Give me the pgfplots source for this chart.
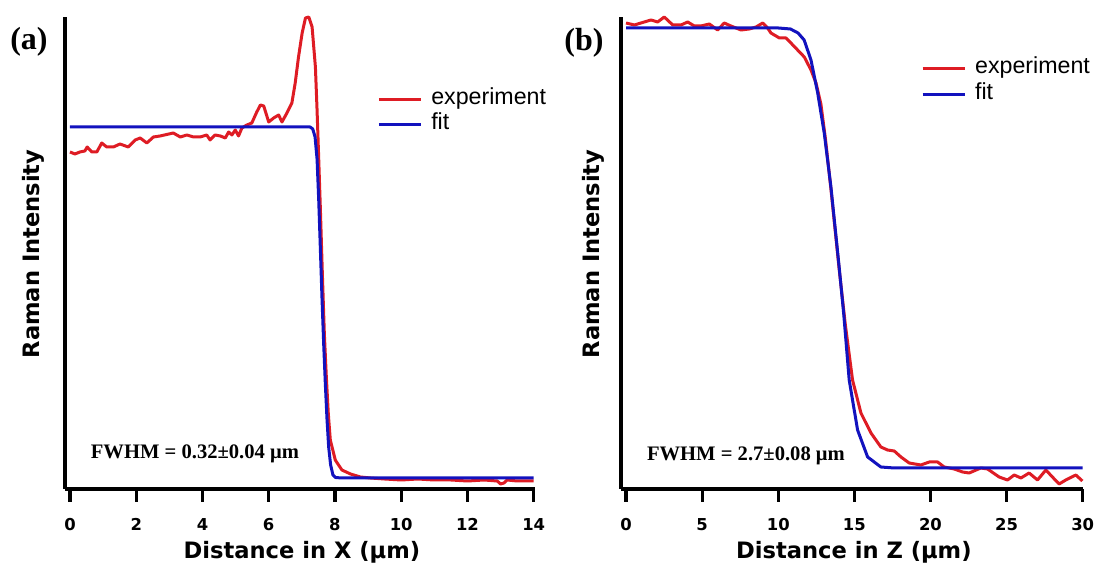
\documentclass[border=0pt]{standalone}
\usepackage{fontspec}
\setmainfont{Liberation Sans}
\newfontfamily\djv{DejaVu Sans}
\newfontfamily\tms{Liberation Serif}
\usepackage{pgfplots}
\pgfplotsset{compat=1.18}

\definecolor{expred}{RGB}{222,28,36}
\definecolor{fitblue}{RGB}{18,18,190}

\pgfplotsset{
  ramanpanel/.style={
    scale only axis, anchor=south west, clip=false,
    height=236pt, ymin=0, ymax=472,
    axis x line=bottom, axis y line=left,
    axis line style={-, line width=1.6pt, black},
    ytick=\empty,
    tick align=outside, major tick length=6.5pt,
    xtick style={line width=1.6pt, black},
    /pgf/number format/assume math mode=true,
    xticklabel style={font=\djv\bfseries\fontsize{8.2}{9}\selectfont, anchor=north, inner sep=0pt, yshift=-8pt},
    xlabel style={font=\djv\bfseries\fontsize{11.3}{13}\selectfont, anchor=base},
    ylabel style={font=\djv\bfseries\fontsize{11.3}{13}\selectfont, anchor=center},
    legend cell align=left,
    legend image code/.code={\draw[#1] (0pt,0pt) -- (21pt,0pt);},
    legend style={draw=none, fill=none, inner sep=0pt, row sep=1.8pt,
      font=\fontsize{11.6}{13}\selectfont,
      nodes={inner sep=0.5pt, text height=0.75em, text depth=0.25em},
      /tikz/every odd column/.append style={column sep=4pt}},
    every axis plot/.append style={line width=1.5pt, line join=round},
  },
}

\begin{document}
\begin{tikzpicture}
\path[use as bounding box] (0,0) rectangle (547.5pt,282.5pt);

% panel (a): lateral profile
\begin{axis}[ramanpanel,
  at={(32.5pt,38pt)}, width=235pt,
  xmin=-0.15, xmax=14.04,
  xtick={0,2,...,14},
  xlabel={Distance in X (μm)},
  ylabel={Raman Intensity},
  xlabel style={at={(axis description cs:0.504,-0.148)}},
  ylabel style={at={(axis description cs:-0.068,0.498)}},
  legend style={at={(axis description cs:0.6635,0.850)}, anchor=north west},
]
\addplot[expred] coordinates {
  (0,337) (0.15,335) (0.30,337) (0.45,338) (0.52,342) (0.66,337) (0.81,337)
  (0.96,346) (1.11,342) (1.31,342) (1.51,345) (1.76,342) (1.97,349) (2.12,351)
  (2.32,346) (2.52,352) (2.72,353) (3.12,356) (3.33,352) (3.53,354) (3.73,352)
  (3.93,352) (4.13,354) (4.23,349) (4.38,354) (4.54,353) (4.69,351) (4.79,357)
  (4.89,354) (4.99,359) (5.09,353) (5.19,361) (5.34,364) (5.49,366) (5.64,377)
  (5.75,384) (5.85,383) (6.00,367) (6.15,371) (6.30,374) (6.40,367) (6.55,376)
  (6.70,386) (6.80,406) (6.90,432) (7.01,456) (7.11,471) (7.21,472) (7.31,462)
  (7.41,422) (7.46,379) (7.51,330) (7.56,280) (7.62,215) (7.68,155) (7.74,112)
  (7.80,75) (7.86,49) (8.01,29) (8.21,19) (8.47,15) (8.77,12) (9.07,11)
  (9.5,10) (10,9) (10.5,10) (11,9) (11.5,9) (12,8) (12.5,9) (12.9,8)
  (13.0,5) (13.1,6) (13.2,9) (13.5,8) (14,8)
};
\addlegendentry{experiment}
\addplot[fitblue] coordinates {
  (0,362) (7.25,362) (7.33,360) (7.40,352) (7.46,330) (7.51,289) (7.56,240)
  (7.61,190) (7.66,145) (7.71,105) (7.76,70) (7.81,42) (7.87,24) (7.94,14)
  (8.02,11.5) (8.2,11) (14,11)
};
\addlegendentry{fit}
\node[anchor=base west, font=\tms\bfseries\fontsize{10.3}{12}\selectfont]
  at (axis description cs:0.040,0.0636) {FWHM = 0.32±0.04 μm};
\node[font=\tms\bfseries\fontsize{16}{18}\selectfont]
  at (axis description cs:-0.0766,0.947) {(a)};
\end{axis}

% panel (b): depth profile
\begin{axis}[ramanpanel,
  at={(310.5pt,38pt)}, width=231pt,
  xmin=-0.33, xmax=30.02,
  xtick={0,5,...,30},
  xlabel={Distance in Z (μm)},
  ylabel={Raman Intensity},
  xlabel style={at={(axis description cs:0.504,-0.148)}},
  ylabel style={at={(axis description cs:-0.0606,0.498)}},
  legend style={at={(axis description cs:0.6487,0.915)}, anchor=north west},
]
\addplot[expred] coordinates {
  (0,466) (0.55,464) (0.98,466) (1.64,469) (2.08,467) (2.51,472) (3.07,464)
  (3.61,464) (4.05,467) (4.49,463) (4.92,463) (5.47,465) (6.02,459) (6.45,466)
  (6.89,463) (7.55,459) (8.10,460) (8.54,462) (8.98,466) (9.30,461) (9.52,456)
  (10.07,451) (10.51,451) (10.83,446) (11.27,439) (11.71,432) (12.15,419)
  (12.48,406) (12.8,385) (13.1,350) (13.46,300) (14.0,220) (14.4,165)
  (14.88,109) (15.43,76) (16.09,56) (16.74,42) (17.18,39) (17.62,38)
  (18.06,32) (18.60,26) (19.37,24) (19.92,27) (20.47,27) (20.90,22) (21.56,20)
  (22.11,17) (22.54,16) (23.31,21) (23.75,20) (24.51,12) (25.06,9) (25.50,14)
  (25.94,11) (26.48,16) (27.03,9) (27.58,19) (28.01,12) (28.45,5) (28.89,9)
  (29.55,14) (29.98,8)
};
\addlegendentry{experiment}
\addplot[fitblue] coordinates {
  (0,461) (10,461) (10.8,460) (11.3,456) (11.7,449) (12.15,429) (12.59,396)
  (13.02,356) (13.46,302) (14.0,222) (14.3,175) (14.66,109) (15.21,59)
  (15.87,32) (16.74,22) (17.62,21) (30,21)
};
\addlegendentry{fit}
\node[anchor=base west, font=\tms\bfseries\fontsize{10.3}{12}\selectfont]
  at (axis description cs:0.041,0.0614) {FWHM = 2.7±0.08 μm};
\node[font=\tms\bfseries\fontsize{16}{18}\selectfont]
  at (axis description cs:-0.080,0.945) {(b)};
\end{axis}
\end{tikzpicture}
\end{document}
